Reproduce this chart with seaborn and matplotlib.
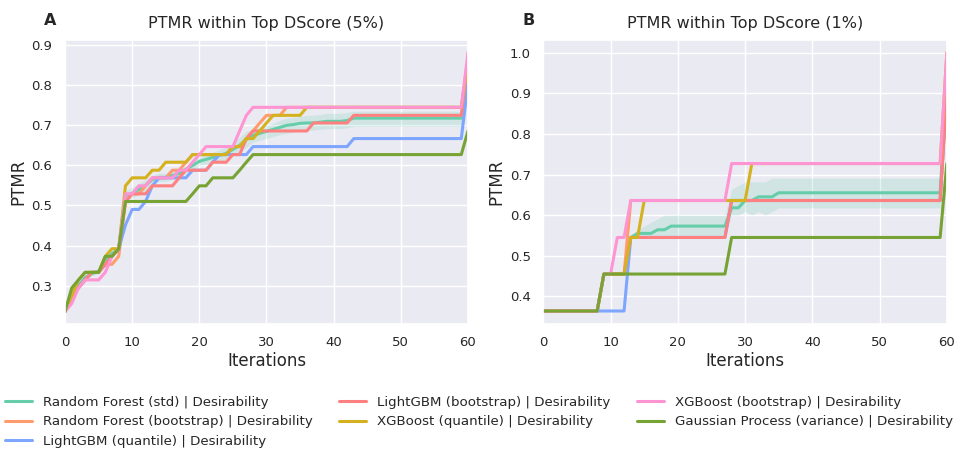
import numpy as np
import pandas as pd
import matplotlib
matplotlib.use("Agg")
import matplotlib.pyplot as plt
import seaborn as sns

iterations = list(range(61))

series_names = [
    "Random Forest (std) | Desirability",
    "Random Forest (bootstrap) | Desirability",
    "LightGBM (quantile) | Desirability",
    "LightGBM (bootstrap) | Desirability",
    "XGBoost (quantile) | Desirability",
    "XGBoost (bootstrap) | Desirability",
    "Gaussian Process (variance) | Desirability",
]
colors = ["#66cdaa", "#ff9c6e", "#7ea6ff", "#ff8080", "#d4b21f", "#ff94d2", "#76a334"]

# ---------------- Panel A : Top DScore 5% ----------------
A_rf_std = [0.235, 0.28, 0.30, 0.32, 0.33, 0.335, 0.36, 0.38, 0.39, 0.525,
            0.53, 0.54, 0.55, 0.565, 0.57, 0.57, 0.575, 0.58, 0.59, 0.60,
            0.61, 0.615, 0.62, 0.625, 0.63, 0.64, 0.65, 0.665, 0.675, 0.68,
            0.685, 0.69, 0.695, 0.70, 0.702, 0.705, 0.706, 0.706, 0.708, 0.71,
            0.71, 0.71, 0.712, 0.718, 0.718, 0.718, 0.718, 0.718, 0.718, 0.718,
            0.718, 0.718, 0.718, 0.718, 0.718, 0.718, 0.718, 0.718, 0.718, 0.718,
            0.85]
A_rf_std_lo = [0.23, 0.275, 0.295, 0.315, 0.325, 0.33, 0.355, 0.375, 0.385, 0.515,
               0.518, 0.527, 0.537, 0.555, 0.56, 0.56, 0.565, 0.57, 0.58, 0.59,
               0.60, 0.603, 0.607, 0.61, 0.615, 0.625, 0.632, 0.645, 0.658, 0.663,
               0.667, 0.672, 0.677, 0.68, 0.683, 0.687, 0.688, 0.688, 0.69, 0.692,
               0.692, 0.692, 0.694, 0.698, 0.698, 0.698, 0.698, 0.698, 0.698, 0.698,
               0.698, 0.698, 0.698, 0.698, 0.698, 0.698, 0.698, 0.698, 0.698, 0.698,
               0.83]
A_rf_std_hi = [0.24, 0.285, 0.305, 0.325, 0.335, 0.34, 0.365, 0.385, 0.395, 0.535,
               0.545, 0.555, 0.565, 0.575, 0.58, 0.58, 0.585, 0.59, 0.60, 0.61,
               0.62, 0.627, 0.633, 0.64, 0.645, 0.655, 0.67, 0.685, 0.69, 0.695,
               0.70, 0.705, 0.712, 0.718, 0.72, 0.722, 0.725, 0.725, 0.727, 0.73,
               0.73, 0.73, 0.732, 0.735, 0.735, 0.735, 0.735, 0.735, 0.735, 0.735,
               0.735, 0.735, 0.735, 0.735, 0.735, 0.735, 0.735, 0.735, 0.735, 0.735,
               0.87]
A_rf_boot = [0.235, 0.275, 0.294, 0.314, 0.333, 0.333, 0.353, 0.353, 0.373, 0.51,
             0.529, 0.529, 0.549, 0.569, 0.569, 0.569, 0.588, 0.588, 0.608, 0.627,
             0.627, 0.627, 0.627, 0.627, 0.627, 0.647, 0.647, 0.667, 0.686, 0.706,
             0.725, 0.725, 0.725, 0.745, 0.745, 0.745, 0.745, 0.745, 0.745, 0.745,
             0.745, 0.745, 0.745, 0.745, 0.745, 0.745, 0.745, 0.745, 0.745, 0.745,
             0.745, 0.745, 0.745, 0.745, 0.745, 0.745, 0.745, 0.745, 0.745, 0.745,
             0.863]
A_lgb_q = [0.235, 0.275, 0.294, 0.314, 0.333, 0.333, 0.353, 0.373, 0.392, 0.451,
           0.49, 0.49, 0.51, 0.549, 0.569, 0.569, 0.569, 0.569, 0.569, 0.588,
           0.588, 0.588, 0.608, 0.627, 0.627, 0.627, 0.627, 0.627, 0.647, 0.647,
           0.647, 0.647, 0.647, 0.647, 0.647, 0.647, 0.647, 0.647, 0.647, 0.647,
           0.647, 0.647, 0.647, 0.667, 0.667, 0.667, 0.667, 0.667, 0.667, 0.667,
           0.667, 0.667, 0.667, 0.667, 0.667, 0.667, 0.667, 0.667, 0.667, 0.667,
           0.804]
A_lgb_boot = [0.235, 0.275, 0.294, 0.314, 0.333, 0.333, 0.353, 0.373, 0.392, 0.51,
              0.529, 0.529, 0.529, 0.549, 0.549, 0.549, 0.549, 0.569, 0.588, 0.588,
              0.588, 0.588, 0.608, 0.608, 0.608, 0.627, 0.627, 0.667, 0.686, 0.686,
              0.686, 0.686, 0.686, 0.686, 0.686, 0.686, 0.686, 0.706, 0.706, 0.706,
              0.706, 0.706, 0.706, 0.725, 0.725, 0.725, 0.725, 0.725, 0.725, 0.725,
              0.725, 0.725, 0.725, 0.725, 0.725, 0.725, 0.725, 0.725, 0.725, 0.725,
              0.863]
A_xgb_q = [0.235, 0.275, 0.314, 0.333, 0.333, 0.333, 0.373, 0.392, 0.392, 0.549,
           0.569, 0.569, 0.569, 0.588, 0.588, 0.608, 0.608, 0.608, 0.608, 0.627,
           0.627, 0.627, 0.627, 0.627, 0.627, 0.647, 0.647, 0.667, 0.667, 0.686,
           0.706, 0.725, 0.725, 0.725, 0.725, 0.725, 0.745, 0.745, 0.745, 0.745,
           0.745, 0.745, 0.745, 0.745, 0.745, 0.745, 0.745, 0.745, 0.745, 0.745,
           0.745, 0.745, 0.745, 0.745, 0.745, 0.745, 0.745, 0.745, 0.745, 0.745,
           0.863]
A_xgb_boot = [0.235, 0.255, 0.294, 0.314, 0.314, 0.314, 0.333, 0.373, 0.392, 0.529,
              0.529, 0.549, 0.549, 0.569, 0.569, 0.569, 0.569, 0.588, 0.588, 0.608,
              0.627, 0.647, 0.647, 0.647, 0.647, 0.647, 0.686, 0.725, 0.745, 0.745,
              0.745, 0.745, 0.745, 0.745, 0.745, 0.745, 0.745, 0.745, 0.745, 0.745,
              0.745, 0.745, 0.745, 0.745, 0.745, 0.745, 0.745, 0.745, 0.745, 0.745,
              0.745, 0.745, 0.745, 0.745, 0.745, 0.745, 0.745, 0.745, 0.745, 0.745,
              0.882]
A_gp = [0.235, 0.294, 0.314, 0.333, 0.333, 0.333, 0.373, 0.373, 0.392, 0.51,
        0.51, 0.51, 0.51, 0.51, 0.51, 0.51, 0.51, 0.51, 0.51, 0.529,
        0.549, 0.549, 0.569, 0.569, 0.569, 0.569, 0.588, 0.608, 0.627, 0.627,
        0.627, 0.627, 0.627, 0.627, 0.627, 0.627, 0.627, 0.627, 0.627, 0.627,
        0.627, 0.627, 0.627, 0.627, 0.627, 0.627, 0.627, 0.627, 0.627, 0.627,
        0.627, 0.627, 0.627, 0.627, 0.627, 0.627, 0.627, 0.627, 0.627, 0.627,
        0.686]

# ---------------- Panel B : Top DScore 1% ----------------
B_rf_std = [0.364, 0.364, 0.364, 0.364, 0.364, 0.364, 0.364, 0.364, 0.364, 0.455,
            0.455, 0.455, 0.455, 0.545, 0.555, 0.555, 0.555, 0.564, 0.564, 0.573,
            0.573, 0.573, 0.573, 0.573, 0.573, 0.573, 0.573, 0.573, 0.618, 0.618,
            0.636, 0.636, 0.645, 0.645, 0.645, 0.655, 0.655, 0.655, 0.655, 0.655,
            0.655, 0.655, 0.655, 0.655, 0.655, 0.655, 0.655, 0.655, 0.655, 0.655,
            0.655, 0.655, 0.655, 0.655, 0.655, 0.655, 0.655, 0.655, 0.655, 0.655,
            0.927]
B_rf_std_lo = [0.364, 0.364, 0.364, 0.364, 0.364, 0.364, 0.364, 0.364, 0.364, 0.455,
               0.455, 0.455, 0.455, 0.545, 0.545, 0.545, 0.545, 0.545, 0.545, 0.545,
               0.545, 0.545, 0.545, 0.545, 0.545, 0.545, 0.545, 0.545, 0.60, 0.60,
               0.609, 0.60, 0.609, 0.60, 0.609, 0.618, 0.618, 0.618, 0.618, 0.618,
               0.618, 0.618, 0.618, 0.618, 0.618, 0.618, 0.618, 0.618, 0.618, 0.618,
               0.618, 0.618, 0.618, 0.618, 0.618, 0.618, 0.618, 0.618, 0.618, 0.618,
               0.88]
B_rf_std_hi = [0.364, 0.364, 0.364, 0.364, 0.364, 0.364, 0.364, 0.364, 0.364, 0.455,
               0.455, 0.455, 0.455, 0.545, 0.564, 0.573, 0.582, 0.591, 0.60, 0.60,
               0.60, 0.60, 0.60, 0.60, 0.60, 0.60, 0.60, 0.60, 0.664, 0.673,
               0.682, 0.682, 0.682, 0.682, 0.691, 0.691, 0.691, 0.691, 0.691, 0.691,
               0.691, 0.691, 0.691, 0.691, 0.691, 0.691, 0.691, 0.691, 0.691, 0.691,
               0.691, 0.691, 0.691, 0.691, 0.691, 0.691, 0.691, 0.691, 0.691, 0.691,
               0.97]
B_rf_boot = [0.364, 0.364, 0.364, 0.364, 0.364, 0.364, 0.364, 0.364, 0.364, 0.455,
             0.455, 0.455, 0.455, 0.636, 0.636, 0.636, 0.636, 0.636, 0.636, 0.636,
             0.636, 0.636, 0.636, 0.636, 0.636, 0.636, 0.636, 0.636, 0.636, 0.636,
             0.636, 0.636, 0.636, 0.636, 0.636, 0.636, 0.636, 0.636, 0.636, 0.636,
             0.636, 0.636, 0.636, 0.636, 0.636, 0.636, 0.636, 0.636, 0.636, 0.636,
             0.636, 0.636, 0.636, 0.636, 0.636, 0.636, 0.636, 0.636, 0.636, 0.636,
             0.909]
B_lgb_q = [0.364, 0.364, 0.364, 0.364, 0.364, 0.364, 0.364, 0.364, 0.364, 0.364,
           0.364, 0.364, 0.364, 0.545, 0.545, 0.545, 0.545, 0.545, 0.545, 0.545,
           0.545, 0.545, 0.545, 0.545, 0.545, 0.545, 0.545, 0.545, 0.636, 0.636,
           0.636, 0.636, 0.636, 0.636, 0.636, 0.636, 0.636, 0.636, 0.636, 0.636,
           0.636, 0.636, 0.636, 0.636, 0.636, 0.636, 0.636, 0.636, 0.636, 0.636,
           0.636, 0.636, 0.636, 0.636, 0.636, 0.636, 0.636, 0.636, 0.636, 0.636,
           0.909]
B_lgb_boot = [0.364, 0.364, 0.364, 0.364, 0.364, 0.364, 0.364, 0.364, 0.364, 0.455,
              0.455, 0.455, 0.455, 0.545, 0.545, 0.545, 0.545, 0.545, 0.545, 0.545,
              0.545, 0.545, 0.545, 0.545, 0.545, 0.545, 0.545, 0.545, 0.636, 0.636,
              0.636, 0.636, 0.636, 0.636, 0.636, 0.636, 0.636, 0.636, 0.636, 0.636,
              0.636, 0.636, 0.636, 0.636, 0.636, 0.636, 0.636, 0.636, 0.636, 0.636,
              0.636, 0.636, 0.636, 0.636, 0.636, 0.636, 0.636, 0.636, 0.636, 0.636,
              0.909]
B_xgb_q = [0.364, 0.364, 0.364, 0.364, 0.364, 0.364, 0.364, 0.364, 0.364, 0.455,
           0.455, 0.455, 0.455, 0.545, 0.545, 0.636, 0.636, 0.636, 0.636, 0.636,
           0.636, 0.636, 0.636, 0.636, 0.636, 0.636, 0.636, 0.636, 0.636, 0.636,
           0.636, 0.727, 0.727, 0.727, 0.727, 0.727, 0.727, 0.727, 0.727, 0.727,
           0.727, 0.727, 0.727, 0.727, 0.727, 0.727, 0.727, 0.727, 0.727, 0.727,
           0.727, 0.727, 0.727, 0.727, 0.727, 0.727, 0.727, 0.727, 0.727, 0.727,
           1.0]
B_xgb_boot = [0.364, 0.364, 0.364, 0.364, 0.364, 0.364, 0.364, 0.364, 0.364, 0.455,
              0.455, 0.545, 0.545, 0.636, 0.636, 0.636, 0.636, 0.636, 0.636, 0.636,
              0.636, 0.636, 0.636, 0.636, 0.636, 0.636, 0.636, 0.636, 0.727, 0.727,
              0.727, 0.727, 0.727, 0.727, 0.727, 0.727, 0.727, 0.727, 0.727, 0.727,
              0.727, 0.727, 0.727, 0.727, 0.727, 0.727, 0.727, 0.727, 0.727, 0.727,
              0.727, 0.727, 0.727, 0.727, 0.727, 0.727, 0.727, 0.727, 0.727, 0.727,
              1.0]
B_gp = [0.364, 0.364, 0.364, 0.364, 0.364, 0.364, 0.364, 0.364, 0.364, 0.455,
        0.455, 0.455, 0.455, 0.455, 0.455, 0.455, 0.455, 0.455, 0.455, 0.455,
        0.455, 0.455, 0.455, 0.455, 0.455, 0.455, 0.455, 0.455, 0.545, 0.545,
        0.545, 0.545, 0.545, 0.545, 0.545, 0.545, 0.545, 0.545, 0.545, 0.545,
        0.545, 0.545, 0.545, 0.545, 0.545, 0.545, 0.545, 0.545, 0.545, 0.545,
        0.545, 0.545, 0.545, 0.545, 0.545, 0.545, 0.545, 0.545, 0.545, 0.545,
        0.727]

panels = [
    dict(letter="A", title="PTMR within Top DScore (5%)",
         series=[A_rf_std, A_rf_boot, A_lgb_q, A_lgb_boot, A_xgb_q, A_xgb_boot, A_gp],
         lo=A_rf_std_lo, hi=A_rf_std_hi, ylim=(0.204, 0.913),
         yticks=[0.3, 0.4, 0.5, 0.6, 0.7, 0.8, 0.9]),
    dict(letter="B", title="PTMR within Top DScore (1%)",
         series=[B_rf_std, B_rf_boot, B_lgb_q, B_lgb_boot, B_xgb_q, B_xgb_boot, B_gp],
         lo=B_rf_std_lo, hi=B_rf_std_hi, ylim=(0.332, 1.031),
         yticks=[0.4, 0.5, 0.6, 0.7, 0.8, 0.9, 1.0]),
]

sns.set_theme(style="darkgrid")
plt.rcParams["font.family"] = ["DejaVu Sans"]

fig = plt.figure(figsize=(9.6, 4.5), dpi=100)
ax_a = fig.add_axes([0.0677, 0.28, 0.4198, 0.631])
ax_b = fig.add_axes([0.566, 0.28, 0.4203, 0.631])

for ax, p in zip([ax_a, ax_b], panels):
    ax.fill_between(iterations, p["lo"], p["hi"], color=colors[0], alpha=0.2, linewidth=0)
    for name, vals, col in zip(series_names, p["series"], colors):
        df = pd.DataFrame({"Iterations": iterations, "PTMR": vals})
        sns.lineplot(data=df, x="Iterations", y="PTMR", color=col, linewidth=2.2,
                     label=name, ax=ax, legend=False)
    ax.set_xlim(0, 60)
    ax.set_ylim(*p["ylim"])
    ax.set_xticks([0, 10, 20, 30, 40, 50, 60])
    ax.set_yticks(p["yticks"])
    ax.tick_params(labelsize=9.5, pad=3)
    ax.set_xlabel("Iterations", fontsize=12, labelpad=2)
    ax.set_ylabel("PTMR", fontsize=12, labelpad=3)
    ax.set_title(p["title"], fontsize=11.5, pad=9)
    ax.text(-0.022, 1.053, p["letter"], transform=ax.transAxes, fontsize=11.5,
            fontweight="bold", ha="right", va="baseline")

handles, labels = ax_a.get_legend_handles_labels()
fig.legend(handles, labels, loc="upper left", bbox_to_anchor=(0.0, 0.133), ncol=3,
           frameon=False, fontsize=9.65, handlelength=2.0, columnspacing=2.0,
           labelspacing=0.5, borderaxespad=0.0)

fig.savefig("out.png", dpi=100)
